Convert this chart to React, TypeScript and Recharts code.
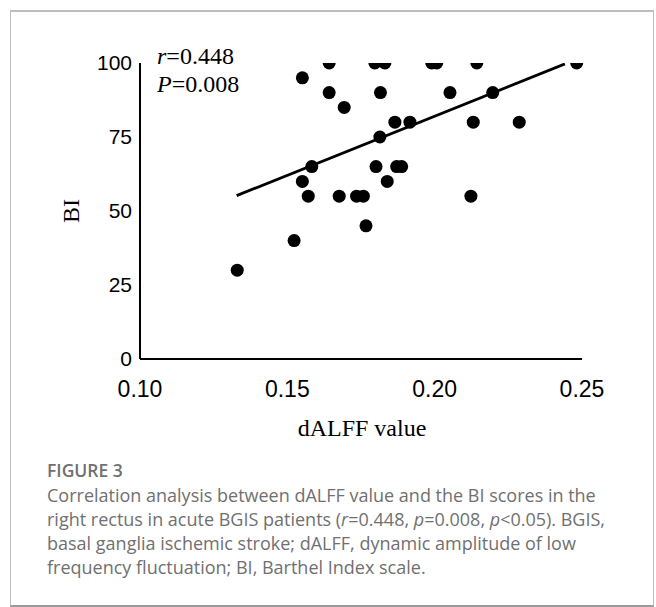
import React from 'react';
import { ScatterChart, Scatter, XAxis, YAxis } from 'recharts';

const dalff = [
  0.1642, 0.1797, 0.1831, 0.199, 0.2007, 0.2143, 0.2482,
  0.1551,
  0.1642, 0.1816, 0.2052, 0.2197,
  0.1693,
  0.1865, 0.1916, 0.2131, 0.2287,
  0.1814,
  0.1583, 0.1801, 0.1871, 0.1888,
  0.1551, 0.1839,
  0.1571, 0.1676, 0.1735, 0.1758, 0.2123,
  0.1767,
  0.1523,
  0.133,
];
const biScores = [
  100, 100, 100, 100, 100, 100, 100,
  95,
  90, 90, 90, 90,
  85,
  80, 80, 80, 80,
  75,
  65, 65, 65, 65,
  60, 60,
  55, 55, 55, 55, 55,
  45,
  40,
  30,
];
const fitX = [0.1328, 0.2442];
const fitY = [55.2, 99.7];
const xTicks = [0.1, 0.15, 0.2, 0.25];
const yTicks = [0, 25, 50, 75, 100];

const points = dalff.map((x, i) => ({ x, y: biScores[i] }));
const fitLine = fitX.map((x, i) => ({ x, y: fitY[i] }));

const SANS = '"Liberation Sans", Arial, sans-serif';
const SERIF = '"Liberation Serif", "Times New Roman", serif';
const CAP = '"Open Sans", "Noto Sans", sans-serif';

const Dot = (props: any) => <circle cx={props.cx} cy={props.cy} r={6.5} fill="#000" />;
const NoDot = () => <g />;

export default function App() {
  return (
    <div style={{ position: 'absolute', left: 0, top: 0, width: 656, height: 607, background: '#fff' }}>
      <div
        style={{
          position: 'absolute',
          left: 10,
          top: 10,
          width: 644,
          height: 597,
          boxSizing: 'border-box',
          borderTop: '2px solid #bdbdbd',
          borderLeft: '1px solid #bdbdbd',
          borderRight: '1px solid #bdbdbd',
          borderBottom: '2px solid #9a9a9a',
        }}
      />
      <div style={{ position: 'absolute', left: 0, top: 0 }}>
        <ScatterChart width={656} height={607} margin={{ top: 63, right: 74, bottom: 188, left: 0 }}>
          <XAxis
            type="number"
            dataKey="x"
            domain={[0.1, 0.25]}
            ticks={xTicks}
            interval={0}
            tickFormatter={(v: number) => v.toFixed(2)}
            tickLine={false}
            tickSize={6}
            tickMargin={16}
            height={60}
            axisLine={{ stroke: '#000', strokeWidth: 2 }}
            tick={{ fontFamily: SANS, fontSize: 23, fill: '#000' }}
          />
          <YAxis
            type="number"
            dataKey="y"
            domain={[0, 100]}
            ticks={yTicks}
            interval={0}
            allowDataOverflow
            width={140}
            tickLine={false}
            tickSize={6}
            tickMargin={2}
            axisLine={{ stroke: '#000', strokeWidth: 2 }}
            tick={{ fontFamily: SANS, fontSize: 21, fill: '#000' }}
          />
          <Scatter data={points} fill="#000" shape={Dot} isAnimationActive={false} />
          <Scatter
            data={fitLine}
            line={{ stroke: '#000', strokeWidth: 2.8 }}
            shape={NoDot}
            isAnimationActive={false}
          />
        </ScatterChart>
      </div>
      <svg
        width={656}
        height={607}
        style={{ position: 'absolute', left: 0, top: 0, pointerEvents: 'none' }}
      >
        <text x={157} y={64} fontFamily={SERIF} fontSize={24} fill="#000">
          <tspan fontStyle="italic">r</tspan>=0.448
        </text>
        <text x={157} y={92} fontFamily={SERIF} fontSize={24} fill="#000">
          <tspan fontStyle="italic">P</tspan>=0.008
        </text>
        <text
          transform="translate(79,211) rotate(-90)"
          textAnchor="middle"
          fontFamily={SERIF}
          fontSize={24}
          fill="#000"
        >
          BI
        </text>
        <text x={362} y={436} textAnchor="middle" fontFamily={SERIF} fontSize={24} fill="#000">
          dALFF value
        </text>
        <text x={47} y={477} fontFamily={CAP} fontSize={17.5} fontWeight={600} fill="#707070">
          FIGURE 3
        </text>
        <g fontFamily={CAP} fontSize={18} fill="#707070">
          <text x={47} y={501.5}>Correlation analysis between dALFF value and the BI scores in the</text>
          <text x={47} y={525.5}>
            right rectus in acute BGIS patients (<tspan fontStyle="italic">r</tspan>=0.448,{' '}
            <tspan fontStyle="italic">p</tspan>=0.008, <tspan fontStyle="italic">p</tspan>&lt;0.05). BGIS,
          </text>
          <text x={47} y={549.5}>basal ganglia ischemic stroke; dALFF, dynamic amplitude of low</text>
          <text x={47} y={573.5}>frequency fluctuation; BI, Barthel Index scale.</text>
        </g>
      </svg>
    </div>
  );
}
